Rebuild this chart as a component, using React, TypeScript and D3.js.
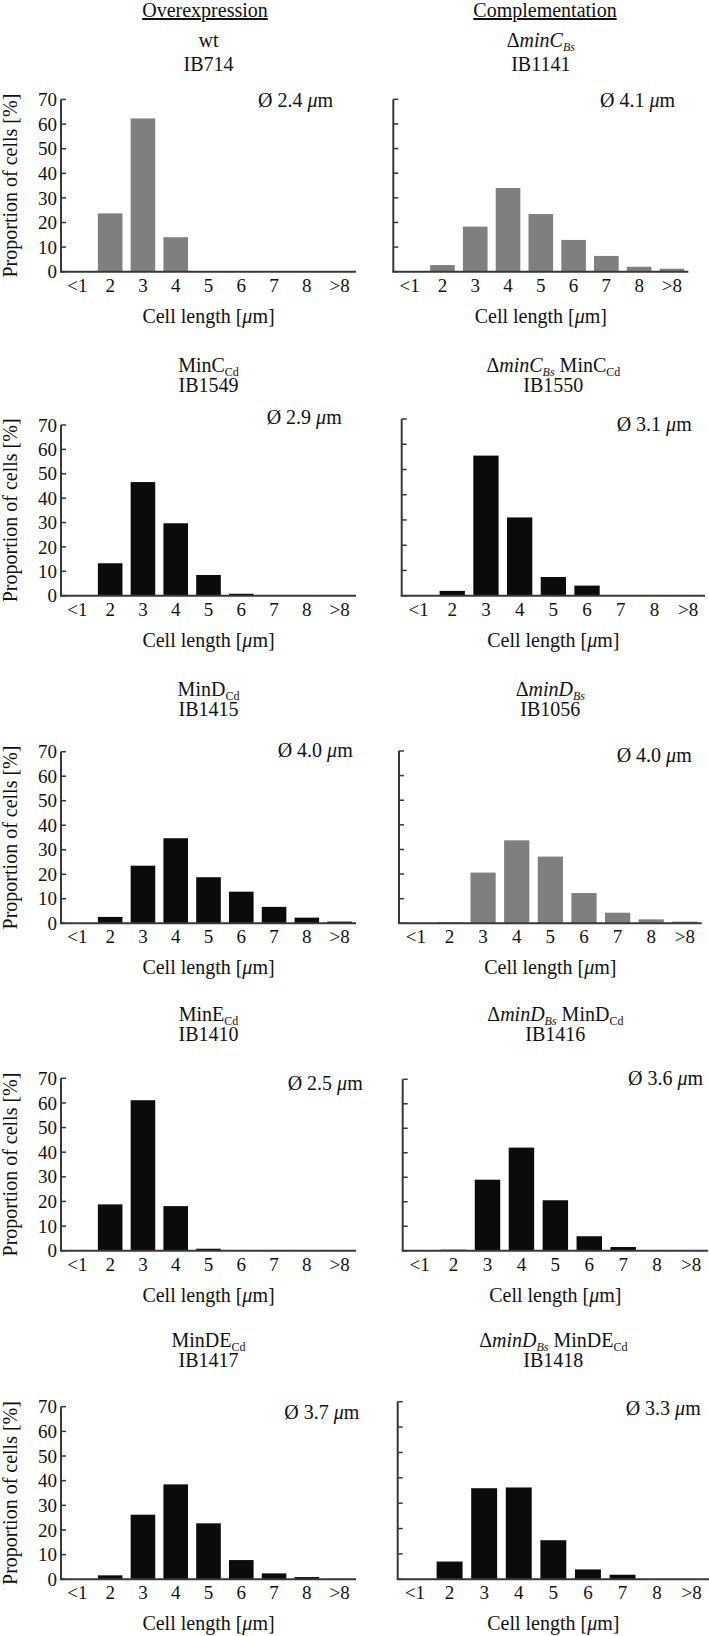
import React from "react";
import * as d3 from "d3";

// ---------- data ----------
const categories = ["<1", "2", "3", "4", "5", "6", "7", "8", ">8"];
const yTickValues = [0, 10, 20, 30, 40, 50, 60, 70];
const columnHeaders = ["Overexpression", "Complementation"];

const wtIB714 = [0, 23.7, 62.3, 14.0, 0, 0, 0, 0, 0];
const dMinCBsIB1141 = [0, 2.7, 18.3, 34.0, 23.4, 12.9, 6.4, 2.0, 1.2];
const minCCdIB1549 = [0, 13.3, 46.6, 29.7, 8.5, 0.8, 0, 0, 0];
const dMinCBsMinCCdIB1550 = [0, 1.9, 55.5, 31.0, 7.4, 4.0, 0, 0, 0];
const minDCdIB1415 = [0, 2.6, 23.5, 34.7, 18.8, 12.9, 6.7, 2.3, 0.7];
const dMinDBsIB1056 = [0.2, 0.4, 20.6, 33.7, 27.1, 12.3, 4.3, 1.6, 0.7];
const minECdIB1410 = [0, 18.8, 61.1, 18.1, 0.8, 0, 0, 0, 0];
const dMinDBsMinDCdIB1416 = [0, 0.4, 29.0, 42.1, 20.6, 5.9, 1.5, 0, 0];
const minDECdIB1417 = [0, 1.6, 26.2, 38.5, 22.7, 7.8, 2.4, 0.9, 0.2];
const dMinDBsMinDECdIB1418 = [0, 7.0, 35.9, 36.2, 15.4, 3.9, 1.8, 0, 0];

const panelSeries = [
  wtIB714, dMinCBsIB1141,
  minCCdIB1549, dMinCBsMinCCdIB1550,
  minDCdIB1415, dMinDBsIB1056,
  minECdIB1410, dMinDBsMinDCdIB1416,
  minDECdIB1417, dMinDBsMinDECdIB1418,
];
const meanLengths = ["2.4", "4.1", "2.9", "3.1", "4.0", "4.0", "2.5", "3.6", "3.7", "3.3"];
const strainIds = ["IB714", "IB1141", "IB1549", "IB1550", "IB1415", "IB1056", "IB1410", "IB1416", "IB1417", "IB1418"];
const seriesShade = ["gray", "gray", "black", "black", "black", "gray", "black", "black", "black", "black"];

type Seg = { t: string; i?: boolean; sub?: boolean };
const genotypes: Seg[][] = [
  [{ t: "wt" }],
  [{ t: "Δ" }, { t: "minC", i: true }, { t: "Bs", i: true, sub: true }],
  [{ t: "MinC" }, { t: "Cd", sub: true }],
  [{ t: "Δ" }, { t: "minC", i: true }, { t: "Bs", i: true, sub: true }, { t: " MinC" }, { t: "Cd", sub: true }],
  [{ t: "MinD" }, { t: "Cd", sub: true }],
  [{ t: "Δ" }, { t: "minD", i: true }, { t: "Bs", i: true, sub: true }],
  [{ t: "MinE" }, { t: "Cd", sub: true }],
  [{ t: "Δ" }, { t: "minD", i: true }, { t: "Bs", i: true, sub: true }, { t: " MinD" }, { t: "Cd", sub: true }],
  [{ t: "MinDE" }, { t: "Cd", sub: true }],
  [{ t: "Δ" }, { t: "minD", i: true }, { t: "Bs", i: true, sub: true }, { t: " MinDE" }, { t: "Cd", sub: true }],
];

// ---------- layout ----------
const W = 709;
const H = 1636;
const FONT = "'Liberation Serif', 'Times New Roman', 'DejaVu Serif', serif";
const colors: Record<string, string> = { gray: "#7f7f7f", black: "#0b0b0b" };
const axisColor = "#383838";

// plot frames [left, right, top(70%), zero]
const frames = [
  [61, 356, 99.5, 271.7], [393.3, 688.3, 99.3, 271.7],
  [61, 356, 425, 595.7], [401.7, 705, 419, 595.7],
  [61, 356, 751.7, 923.3], [399, 701.7, 751, 923.3],
  [61, 356, 1078.3, 1250.7], [402.7, 708, 1079.3, 1250.7],
  [61, 356, 1406.7, 1579.3], [397.7, 709, 1401.7, 1579.3],
];
const titleBaselines = [[47, 71], [372, 392], [696, 716], [1021, 1041], [1347, 1367]];
const meanLabelPos = [
  [333, 107], [675, 107], [341.7, 424], [691.7, 431], [352.7, 757],
  [691.7, 762], [362.7, 1090], [703, 1085], [359.3, 1419], [700.7, 1415],
];
const headerX = [205, 545];

function Panel({ idx }: { idx: number }) {
  const [x0, x1, top, zero] = frames[idx];
  const row = Math.floor(idx / 2);
  const col = idx % 2;
  const values = panelSeries[idx];
  const x = d3.scaleBand<string>().domain(categories).range([x0, x1]).paddingInner(0.25).paddingOuter(0.125);
  const y = d3.scaleLinear().domain([0, 70]).range([zero, top]);
  const cx = (x0 + x1) / 2;
  const [tb1, tb2] = titleBaselines[row];
  const [mx, my] = meanLabelPos[idx];
  const segs = genotypes[idx];

  const tspans: React.ReactNode[] = [];
  segs.forEach((s, k) => {
    const prevSub = k > 0 && segs[k - 1].sub;
    let dy = 0;
    if (s.sub && !prevSub) dy = 4;
    else if (!s.sub && prevSub) dy = -4;
    tspans.push(
      <tspan key={k} dy={dy} fontStyle={s.i ? "italic" : "normal"} fontSize={s.sub ? 12 : 20}>
        {s.t}
      </tspan>
    );
  });

  return (
    <g>
      <text x={cx} y={tb1} textAnchor="middle" fontSize={20}>{tspans}</text>
      <text x={cx} y={tb2} textAnchor="middle" fontSize={20}>{strainIds[idx]}</text>
      <text x={mx} y={my} textAnchor="end" fontSize={20}>
        {"Ø " + meanLengths[idx] + " "}
        <tspan fontStyle="italic">μ</tspan>m
      </text>
      {values.map((v, k) => (
        <rect
          key={k}
          x={x(categories[k])!}
          width={x.bandwidth()}
          y={y(v)}
          height={Math.max(0, zero - y(v))}
          fill={colors[seriesShade[idx]]}
        />
      ))}
      <line x1={x0} x2={x0} y1={top} y2={zero} stroke={axisColor} strokeWidth={2} />
      <line x1={x0 - 1} x2={x1} y1={zero} y2={zero} stroke={axisColor} strokeWidth={2} />
      {yTickValues.map((t) => (
        <line key={t} x1={x0} x2={x0 + 5} y1={y(t)} y2={y(t)} stroke={axisColor} strokeWidth={1.5} />
      ))}
      {col === 0 &&
        yTickValues.map((t) => (
          <text key={t} x={x0 - 4} y={y(t)} dy="0.35em" textAnchor="end" fontSize={19}>
            {t}
          </text>
        ))}
      {categories.map((c) => (
        <text key={c} x={x(c)! + x.bandwidth() / 2} y={zero + 20} textAnchor="middle" fontSize={19}>
          {c}
        </text>
      ))}
      <text x={cx} y={zero + 51} textAnchor="middle" fontSize={20}>
        Cell length [<tspan fontStyle="italic">μ</tspan>m]
      </text>
      {col === 0 && (
        <text
          transform={`translate(17,${(top + zero) / 2}) rotate(-90)`}
          textAnchor="middle"
          fontSize={20}
        >
          Proportion of cells [%]
        </text>
      )}
    </g>
  );
}

export default function App() {
  return (
    <svg
      width={W}
      height={H}
      viewBox={`0 0 ${W} ${H}`}
      style={{ position: "absolute", left: 0, top: 0, background: "#fff", fontFamily: FONT }}
      fill="#111"
    >
      <rect x={0} y={0} width={W} height={H} fill="#fff" />
      {columnHeaders.map((h, i) => (
        <text key={h} x={headerX[i]} y={17} textAnchor="middle" fontSize={20} textDecoration="underline">
          {h}
        </text>
      ))}
      {panelSeries.map((_, i) => (
        <Panel key={i} idx={i} />
      ))}
    </svg>
  );
}
